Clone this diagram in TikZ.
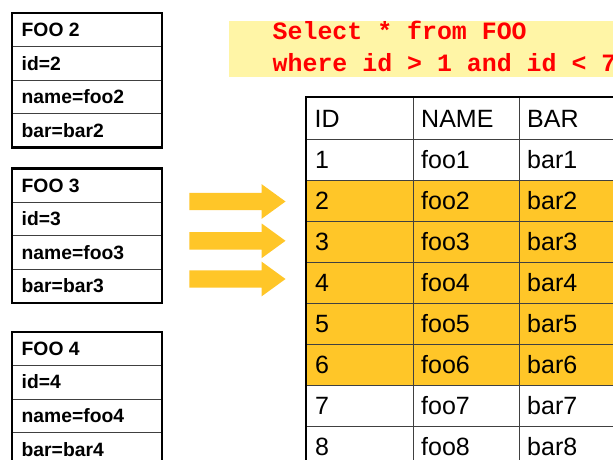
\documentclass[tikz,border=0pt]{standalone}
\usepackage{fontspec}
\setmainfont{Liberation Sans}
\newfontfamily\sqlfont{Liberation Mono}

\definecolor{sqlback}{HTML}{FFF5A6}
\definecolor{sqlred}{HTML}{FF0000}
\definecolor{hilite}{HTML}{FFC628}

\tikzset{
  boxtext/.style={anchor=base west, inner sep=0pt, font=\fontsize{19.3}{21}\selectfont\bfseries},
  celltext/.style={anchor=base west, inner sep=0pt, font=\fontsize{25}{28}\selectfont},
  sqltext/.style={anchor=base west, inner sep=0pt, text=sqlred, font=\sqlfont\fontsize{24.9}{30}\selectfont\bfseries},
  thinrule/.style={line width=0.8pt, black!75},
  thickrule/.style={line width=2.2pt, black},
  arrowfill/.style={fill=hilite}
}

\begin{document}
\begin{tikzpicture}[x=1pt,y=-1pt]
\clip (0,0) rectangle (613,460);
\fill[white] (0,0) rectangle (613,460);

%sql query on the yellow band
\fill[sqlback] (229,21) rectangle (640,77);
\node[sqltext] (sqlA) at (272.5,40) {Select * from FOO};
\node[sqltext] (sqlB) at (272.5,71) {where id > 1 and id < 7};

%object boxes on the left
\foreach \n/\yt in {2/13,3/168.5,4/331.7}{
  \foreach \k in {1,2,3}
    \draw[thinrule] (12,{\yt+33.6*\k}) -- (162,{\yt+33.6*\k});
  \draw[thickrule] (12,\yt) rectangle (162,{\yt+134.4});
  \node[boxtext] (foo\n-head) at (21.5,{\yt+23.5}) {FOO \n};
  \node[boxtext] (foo\n-id) at (21.5,{\yt+57.1}) {id=\n};
  \node[boxtext] (foo\n-name) at (21.5,{\yt+90.7}) {name=foo\n};
  \node[boxtext] (foo\n-bar) at (21.5,{\yt+124.3}) {bar=bar\n};
}

%block arrows
\foreach \ya in {201.5,240.8,279}
  \fill[arrowfill] (189.3,{\ya-8.7}) -- (261.7,{\ya-8.7}) -- (261.7,{\ya-17.3})
    -- (285.5,\ya) -- (261.7,{\ya+17.3}) -- (261.7,{\ya+8.7}) -- (189.3,{\ya+8.7}) -- cycle;

%table: highlighted rows and grid
\fill[hilite] (306,180) rectangle (640,385);
\foreach \y in {139,180,221,262,303,344,385,426}
  \draw[thinrule] (306,\y) -- (640,\y);
\foreach \x in {413.5,519}
  \draw[thinrule] (\x,97) -- (\x,470);
\draw[thickrule] (306,470) -- (306,97) -- (640,97);

%table header
\node[celltext] (hid) at (314.5,127.2) {ID};
\node[celltext] (hname) at (421,127.2) {NAME};
\node[celltext] (hbar) at (527,127.2) {BAR};

%table rows
\foreach \i in {1,...,8}{
  \node[celltext] (id\i) at (315,{168.7+41*(\i-1)}) {\i};
  \node[celltext] (name\i) at (421,{168.7+41*(\i-1)}) {foo\i};
  \node[celltext] (bar\i) at (527,{168.7+41*(\i-1)}) {bar\i};
}
\end{tikzpicture}
\end{document}
